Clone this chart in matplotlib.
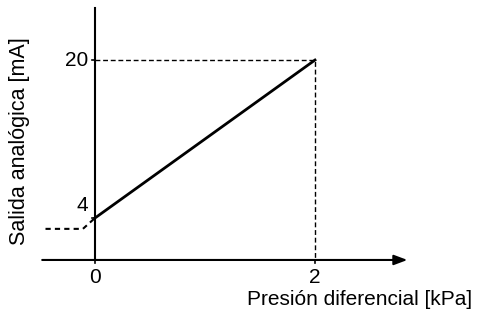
import matplotlib.pyplot as plt

plt.rcParams['font.family'] = ['Liberation Sans', 'DejaVu Sans']

# transfer curve: differential pressure [kPa] -> analog output [mA]
x_line = [0, 2]
y_line = [4, 20]
# below-range output (dashed)
x_low = [-0.45, -0.11, 0]
y_low = [2.9, 2.9, 4]

x_ticks = [0, 2]
y_ticks = [4, 20]

fig = plt.figure(figsize=(4.8, 3.2), dpi=100)
ax = fig.add_axes([0, 0, 1, 1])
ax.set_xlim(-0.8636, 3.5)
ax.set_ylim(-6.33, 26.08)
ax.axis('off')

y_axis0 = -0.25
# axes
ax.annotate('', xy=(2.84, y_axis0), xytext=(-0.48, y_axis0),
            arrowprops=dict(arrowstyle='-|>,head_length=0.8,head_width=0.3',
                            color='black', lw=1.5, shrinkA=0, shrinkB=0))
ax.plot([0, 0], [y_axis0, 25.3], color='black', lw=1.5)

# ticks
for xt in x_ticks:
    ax.plot([xt, xt], [y_axis0 - 0.35, y_axis0], color='black', lw=1.2)
    ax.text(xt, -1.1, str(xt), ha='center', va='top', fontsize=15)
for yt in y_ticks:
    ax.plot([-0.03, 0], [yt, yt], color='black', lw=1.2)
ax.text(-0.06, 20, '20', ha='right', va='center', fontsize=15)
ax.text(-0.06, 5.3, '4', ha='right', va='center', fontsize=15)

# guide lines to (2, 20)
ax.plot([0, 2, 2], [20, 20, y_axis0], color='black', lw=1, ls=(0, (3.5, 2)))

# curve
ax.plot(x_line, y_line, color='black', lw=2)
ax.plot(x_low, y_low, color='black', lw=1.5, ls=(0, (2.5, 2)))

ax.text(3.43, -4.25, 'Presión diferencial [kPa]', ha='right', va='center', fontsize=15)
ax.text(-0.69, 11.8, 'Salida analógica [mA]', ha='center', va='center',
        rotation=90, fontsize=15.5)

fig.savefig('out.png', dpi=100)
